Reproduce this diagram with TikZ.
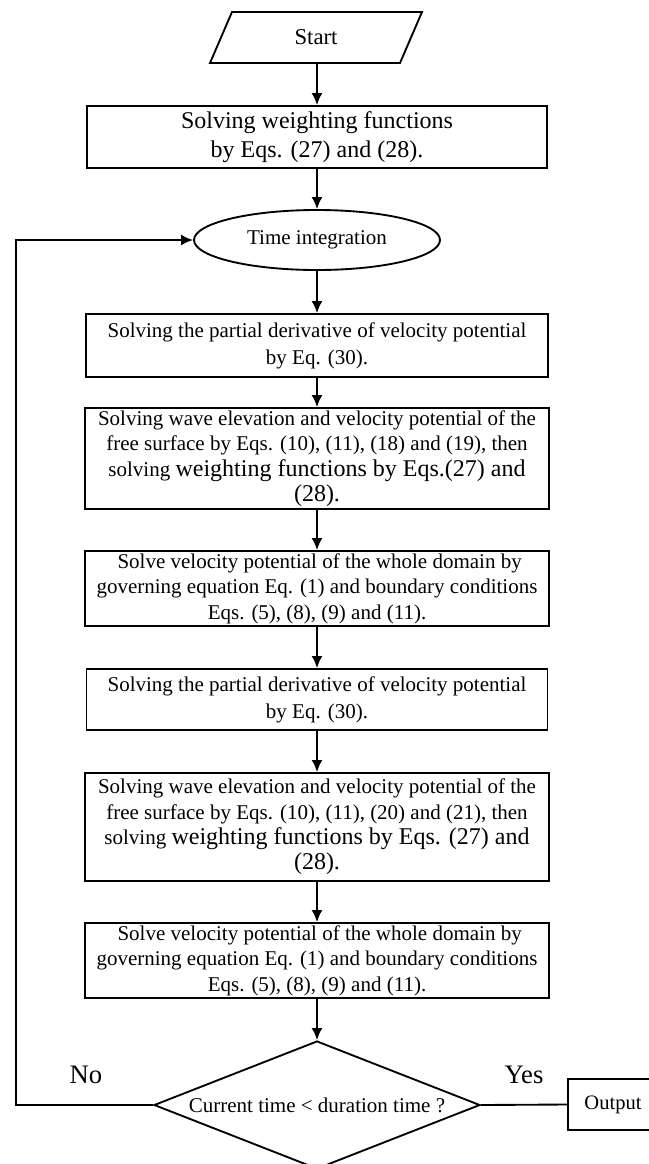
\documentclass[tikz,border=0pt]{standalone}
\usepackage{fontspec}
\setmainfont{Liberation Serif}
\usetikzlibrary{shapes.geometric,arrows.meta}
\newlength\px
\setlength\px{0.75pt}
\tikzset{
  ln/.style={line width=1.4pt},
  arr/.style={ln,-{Latex[length=9pt,width=8.25pt]}},
  boxnode/.style={draw,ln,rectangle,inner sep=0pt,align=center,
    font=\fontsize{15.75}{19}\selectfont},
  bigtxt/.style={font=\fontsize{18}{21.75}\selectfont},
  lbl/.style={inner sep=0pt,font=\fontsize{20}{24}\selectfont},
}
\begin{document}
\begin{tikzpicture}[x=0.75pt,y=-0.75pt]
\useasboundingbox (0,0) rectangle (649,1164);
% Start
\draw[ln] (232,12) -- (422,12) -- (400,63) -- (210,63) -- cycle;
\node[inner sep=0pt,font=\fontsize{17}{20}\selectfont] (start) at (316,37.5) {Start};
\coordinate (sb) at (317,63);
% boxes
\node[boxnode,bigtxt,minimum width=460\px,minimum height=62\px] (b1) at (317,137)
  {Solving weighting functions\\by Eqs. (27) and (28).};
\node[draw,ln,ellipse,inner sep=0pt,minimum width=246\px,minimum height=60\px,
  font=\fontsize{15.75}{19}\selectfont] (ell) at (317,240) {Time integration};
\node[boxnode,minimum width=462\px,minimum height=63\px,
  font=\fontsize{15.75}{20.25}\selectfont] (b2) at (317,345.5)
  {Solving the partial derivative of velocity potential\\by Eq. (30).};
\node[boxnode,minimum width=464\px,minimum height=101\px] (b3) at (317,458.5)
  {Solving wave elevation and velocity potential of the\\
   free surface by Eqs. (10), (11), (18) and (19), then\\
   solving {\fontsize{18}{21}\selectfont weighting functions by Eqs.(27) and}\\
   {\fontsize{18}{21}\selectfont (28).}};
\node[boxnode,minimum width=464\px,minimum height=75\px] (b4) at (317,588.5)
  {\ Solve velocity potential of the whole domain by\\
   governing equation Eq. (1) and boundary conditions\\
   Eqs. (5), (8), (9) and (11).};
\node[boxnode,minimum width=461\px,minimum height=61\px,
  font=\fontsize{15.75}{20.25}\selectfont] (b5) at (317,699.5)
  {Solving the partial derivative of velocity potential\\by Eq. (30).};
\node[boxnode,minimum width=464\px,minimum height=108\px] (b6) at (317,827)
  {Solving wave elevation and velocity potential of the\\
   free surface by Eqs. (10), (11), (20) and (21), then\\
   solving {\fontsize{18}{21}\selectfont weighting functions by Eqs. (27) and}\\
   {\fontsize{18}{21}\selectfont (28).}};
\node[boxnode,minimum width=464\px,minimum height=75\px] (b7) at (317,960.5)
  {\ Solve velocity potential of the whole domain by\\
   governing equation Eq. (1) and boundary conditions\\
   Eqs. (5), (8), (9) and (11).};
\node[draw,ln,diamond,inner sep=0pt,aspect=2.55,minimum width=326\px,minimum height=128\px,
  font=\fontsize{15.75}{19}\selectfont] (dia) at (317,1105) {Current time < duration time ?};
\node[boxnode,minimum width=90\px,minimum height=51\px,
  font=\fontsize{15.4}{18}\selectfont] (out) at (613,1104.5) {Output};
\node[lbl] (no) at (86,1075) {No};
\node[lbl] (yes) at (524,1075) {Yes};
\coordinate (lp) at (16,1105);
% connectors
\draw[arr] (sb) -- (sb |- b1.north);
\draw[arr] (b1) -- (ell);
\draw[arr] (ell) -- (b2);
\draw[arr] (b2) -- (b3);
\draw[arr] (b3) -- (b4);
\draw[arr] (b4) -- (b5);
\draw[arr] (b5) -- (b6);
\draw[arr] (b6) -- (b7);
\draw[arr] (b7) -- (dia);
\draw[arr] (dia.west) -- (lp) |- (ell.west);
\draw[ln] (dia.east) -- (out.west);
\end{tikzpicture}
\end{document}
